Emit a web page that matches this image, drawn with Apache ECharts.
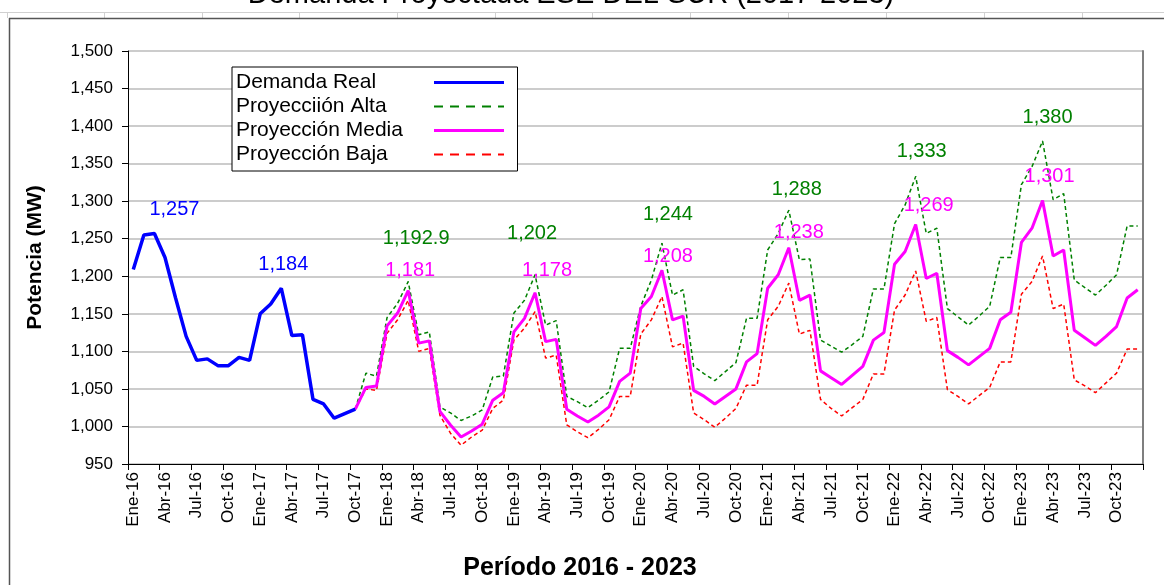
<!DOCTYPE html>
<html><head><meta charset="utf-8">
<script src="https://cdn.jsdelivr.net/npm/echarts@6/dist/echarts.min.js"></script>
<style>html,body{margin:0;padding:0;background:#fff}#c{width:1164px;height:585px}</style>
</head><body><div id="c"></div>
<script>
// ---- DATA ----
const monthNames = ['Ene','Feb','Mar','Abr','May','Jun','Jul','Ago','Sep','Oct','Nov','Dic'];
const years = ['16','17','18','19','20','21','22','23'];
const categories = [];
years.forEach(y => monthNames.forEach(m => categories.push(m + '-' + y)));

// Demanda Real: Ene-16 .. Oct-17
const demandaReal = [1209,1255,1257,1225,1171,1120,1088,1090,1081,1081,1092,1088,
                     1150,1163,1184,1121,1122,1036,1030,1011,1017,1023];
// Projections start at Oct-17 (index 21) and run to Dic-23
const proyStart = 21;
const proyAlta = [1023,1071,1067,
  1145,1164,1192.9,1122,1126,1026,1018,1008,1014,1022,1066,1067,
  1151,1168,1202,1135,1141,1040,1033,1025,1035,1046,1104,1104,
  1160,1195,1244,1175,1182,1080,1070,1061,1073,1085,1144,1144,
  1235,1257,1288,1222,1223,1115,1107,1099,1109,1120,1183,1183,
  1270,1295,1333,1257,1264,1157,1146,1135,1147,1160,1225,1225,
  1322,1346,1380,1302,1310,1195,1185,1175,1188,1202,1267,1267];
const proyMedia = [1023,1052,1054,
  1134,1151,1181,1111,1114,1020,1002,986,994,1003,1035,1045,
  1126,1144,1178,1113,1116,1023,1014,1006,1015,1026,1060,1071,
  1157,1173,1208,1142,1147,1048,1040,1030,1040,1050,1086,1097,
  1184,1202,1238,1168,1175,1074,1065,1056,1068,1080,1115,1125,
  1216,1233,1269,1197,1204,1101,1092,1082,1093,1104,1142,1152,
  1245,1264,1301,1227,1235,1128,1118,1108,1120,1133,1171,1182];
const proyBaja = [1023,1050,1048,
  1124,1142,1168,1100,1104,1015,991,975,986,995,1024,1035,
  1115,1131,1153,1091,1095,1002,993,985,996,1009,1040,1040,
  1123,1142,1173,1106,1111,1018,1009,999,1011,1024,1055,1055,
  1142,1160,1191,1123,1128,1036,1024,1014,1025,1036,1070,1070,
  1155,1175,1207,1140,1145,1049,1040,1030,1041,1052,1086,1086,
  1176,1193,1227,1157,1163,1062,1054,1045,1058,1071,1103,1103];
const yMin = 950, yMax = 1500, yStep = 50;

// ---- label placement (index, dx, dy) ----
const peakLabels = {
  real:  [[2,20,-24],[14,2,-24]],
  alta:  [[26,8,-43],[38,-3,-41],[50,6,-29],[62,8,-21],[74,6,-25],[86,5,-24]],
  media: [[26,2,-20],[38,12,-22],[50,6,-14],[62,10,-15],[74,13,-19],[86,7,-24]]
};

const FONT = "'Liberation Sans', Arial, Helvetica, sans-serif";
const fmt = v => Number(v).toLocaleString('en-US', {maximumFractionDigits: 1});

function build(values, start, labels, color) {
  const arr = new Array(categories.length).fill(null);
  values.forEach((v, k) => { arr[start + k] = v; });
  const lab = {};
  labels.forEach(([i, dx, dy]) => { lab[i] = [dx, dy]; });
  return arr.map((v, i) => (lab[i] && v != null) ? {
    value: v, symbol: 'circle', symbolSize: 1,
    label: { show: true, position: 'inside', offset: lab[i], formatter: p => fmt(p.value),
             color: color, fontSize: 20, fontFamily: FONT }
  } : v);
}

const C_REAL = '#0000ff', C_ALTA = '#008000', C_MEDIA = '#ff00ff', C_BAJA = '#ff0000';
const hiddenDot = { opacity: 0 };

const chart = echarts.init(document.getElementById('c'), null, {renderer: 'canvas'});
chart.setOption({
  animation: false,
  backgroundColor: '#ffffff',
  grid: { left: 128, right: 21, top: 51, bottom: 121, containLabel: false, outerBoundsMode: 'none' },
  legend: {
    orient: 'vertical', left: 232, top: 67, align: 'right',
    backgroundColor: '#ffffff', borderColor: '#000000', borderWidth: 1, borderRadius: 0,
    padding: [5, 12, 6, 4], itemGap: 3, itemWidth: 70, itemHeight: 14,
    selectedMode: false,
    itemStyle: hiddenDot,
    formatter: n => '{t|' + n + '}',
    textStyle: { fontSize: 21, fontFamily: FONT, color: '#000',
      rich: { t: { width: 193, align: 'left', fontSize: 21, lineHeight: 20, fontFamily: FONT, color: '#000' } } },
    data: [
      { name: 'Demanda Real', itemStyle: hiddenDot, lineStyle: { width: 3 } },
      { name: 'Proyecciión Alta', itemStyle: hiddenDot, lineStyle: { width: 2, type: [9, 7] } },
      { name: 'Proyección Media', itemStyle: hiddenDot, lineStyle: { width: 3 } },
      { name: 'Proyección Baja', itemStyle: hiddenDot, lineStyle: { width: 2, type: [9, 7] } }
    ]
  },
  xAxis: {
    type: 'category', data: categories, boundaryGap: true,
    axisLine: { show: true, lineStyle: { color: '#000', width: 1 } },
    axisTick: { show: true, interval: 2, length: 6, lineStyle: { color: '#000', width: 1 } },
    axisLabel: { interval: 2, rotate: 90, fontSize: 17, color: '#000', fontFamily: FONT, margin: 8 },
    splitLine: { show: false }
  },
  yAxis: [{
    type: 'value', min: yMin, max: yMax, interval: yStep,
    axisLine: { show: true, lineStyle: { color: '#000', width: 1 } },
    axisTick: { show: true, length: 6, lineStyle: { color: '#000', width: 1 } },
    axisLabel: { fontSize: 17, color: '#000', fontFamily: FONT, margin: 15, formatter: v => fmt(v) },
    splitLine: { show: true, lineStyle: { color: '#cccccc', width: 2 } },
    name: 'Potencia (MW)', nameLocation: 'middle', nameGap: 82, nameRotate: 90,
    nameTextStyle: { fontSize: 21, fontWeight: 'bold', color: '#000', fontFamily: FONT }
  }, {
    type: 'value', position: 'right', min: yMin, max: yMax, interval: yStep,
    axisLine: { show: true, lineStyle: { color: '#7f7f7f', width: 2 } },
    axisTick: { show: false }, axisLabel: { show: false }, splitLine: { show: false }
  }],
  series: [
    { name: 'Proyección Baja', type: 'line', symbol: 'none', yAxisIndex: 0,
      data: build(proyBaja, proyStart, [], C_BAJA),
      lineStyle: { color: C_BAJA, width: 1.5, type: [4, 3] }, itemStyle: { color: C_BAJA } },
    { name: 'Proyecciión Alta', type: 'line', symbol: 'none', yAxisIndex: 0,
      data: build(proyAlta, proyStart, peakLabels.alta, C_ALTA),
      lineStyle: { color: C_ALTA, width: 1.5, type: [4, 3] }, itemStyle: { color: C_ALTA } },
    { name: 'Proyección Media', type: 'line', symbol: 'none', yAxisIndex: 0,
      data: build(proyMedia, proyStart, peakLabels.media, C_MEDIA),
      lineStyle: { color: C_MEDIA, width: 3 }, itemStyle: { color: C_MEDIA } },
    { name: 'Demanda Real', type: 'line', symbol: 'none', yAxisIndex: 0,
      data: build(demandaReal, 0, peakLabels.real, C_REAL),
      lineStyle: { color: C_REAL, width: 3.5 }, itemStyle: { color: C_REAL } }
  ],
  graphic: [
    { type: 'line', silent: true, shape: { x1: 0, y1: 12.5, x2: 1164, y2: 12.5 }, style: { stroke: '#d0d0d0', lineWidth: 1 } },
    ...[7, 104, 202, 299, 397, 495, 592, 690, 788, 886, 984, 1082].map(x => ({
      type: 'line', silent: true, shape: { x1: x + 0.5, y1: 12, x2: x + 0.5, y2: 18 }, style: { stroke: '#d0d0d0', lineWidth: 1 } })),
    { type: 'line', silent: true, shape: { x1: 9, y1: 18.5, x2: 1164, y2: 18.5 }, style: { stroke: '#555', lineWidth: 1.5 } },
    { type: 'line', silent: true, shape: { x1: 9.5, y1: 18, x2: 9.5, y2: 585 }, style: { stroke: '#555', lineWidth: 1.5 } },
    { type: 'text', silent: true, x: 571, y: -5,
      style: { text: 'Demanda Proyectada ESE DEL SUR (2017-2023)', font: '29px ' + FONT, fill: '#000', align: 'center', verticalAlign: 'middle' } },
    { type: 'text', silent: true, x: 580, y: 568,
      style: { text: 'Período 2016 - 2023', font: 'bold 25px ' + FONT, fill: '#000', align: 'center', verticalAlign: 'middle' } }
  ]
});
</script></body></html>
